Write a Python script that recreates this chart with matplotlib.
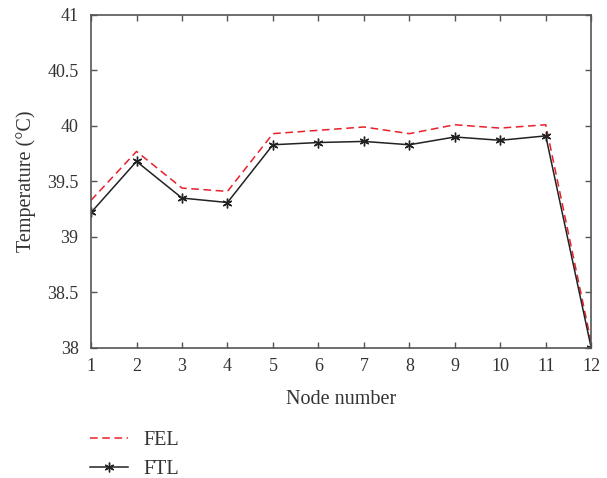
import matplotlib
matplotlib.use("Agg")
import matplotlib.pyplot as plt

nodes = [1, 2, 3, 4, 5, 6, 7, 8, 9, 10, 11, 12]
fel = [39.33, 39.77, 39.44, 39.41, 39.93, 39.96, 39.99, 39.93, 40.01, 39.98, 40.01, 38.05]
ftl = [39.22, 39.68, 39.35, 39.31, 39.83, 39.85, 39.86, 39.83, 39.90, 39.87, 39.91, 38.0]
yticks = [38, 38.5, 39, 39.5, 40, 40.5, 41]
ytick_labels = ["38", "38.5", "39", "39.5", "40", "40.5", "41"]

plt.rcParams['font.family'] = ['Liberation Serif', 'DejaVu Serif']
fig = plt.figure(figsize=(6.07, 4.78), dpi=100)
ax = fig.add_axes([0.150, 0.272, 0.824, 0.697])

l1, = ax.plot(nodes, fel, color='#e8202a', linestyle=(0, (5, 3)), linewidth=1.1, label='FEL')
l2, = ax.plot(nodes, ftl, color='#222222', linewidth=1.1, marker=(6, 2, 0), markersize=7,
              markeredgewidth=1.0, label='FTL')

ax.set_xlim(1, 12)
ax.set_ylim(38, 41)
ax.set_xticks(nodes)
ax.set_yticks(yticks)
ax.set_yticklabels(ytick_labels)
ax.tick_params(direction='in', top=True, right=True, length=4, width=1.0, color='#555555',
               labelsize=13, labelcolor='#333333')
ax.tick_params(axis='y', pad=9)
ax.tick_params(axis='x', pad=7)
for s in ax.spines.values():
    s.set_color('#555555')
    s.set_linewidth(1.2)
ax.set_xlabel('Node number', fontsize=14.5, color='#333333', labelpad=11)
ax.set_ylabel('Temperature (°C)', fontsize=14.5, color='#333333', labelpad=8)

fig.legend(handles=[l1, l2], loc='upper left', bbox_to_anchor=(0.125, 0.128), frameon=False,
           fontsize=14.5, handlelength=1.9, labelspacing=0.5, handletextpad=0.75,
           labelcolor='#333333', borderaxespad=0.3)

fig.savefig('out.png', dpi=100)
